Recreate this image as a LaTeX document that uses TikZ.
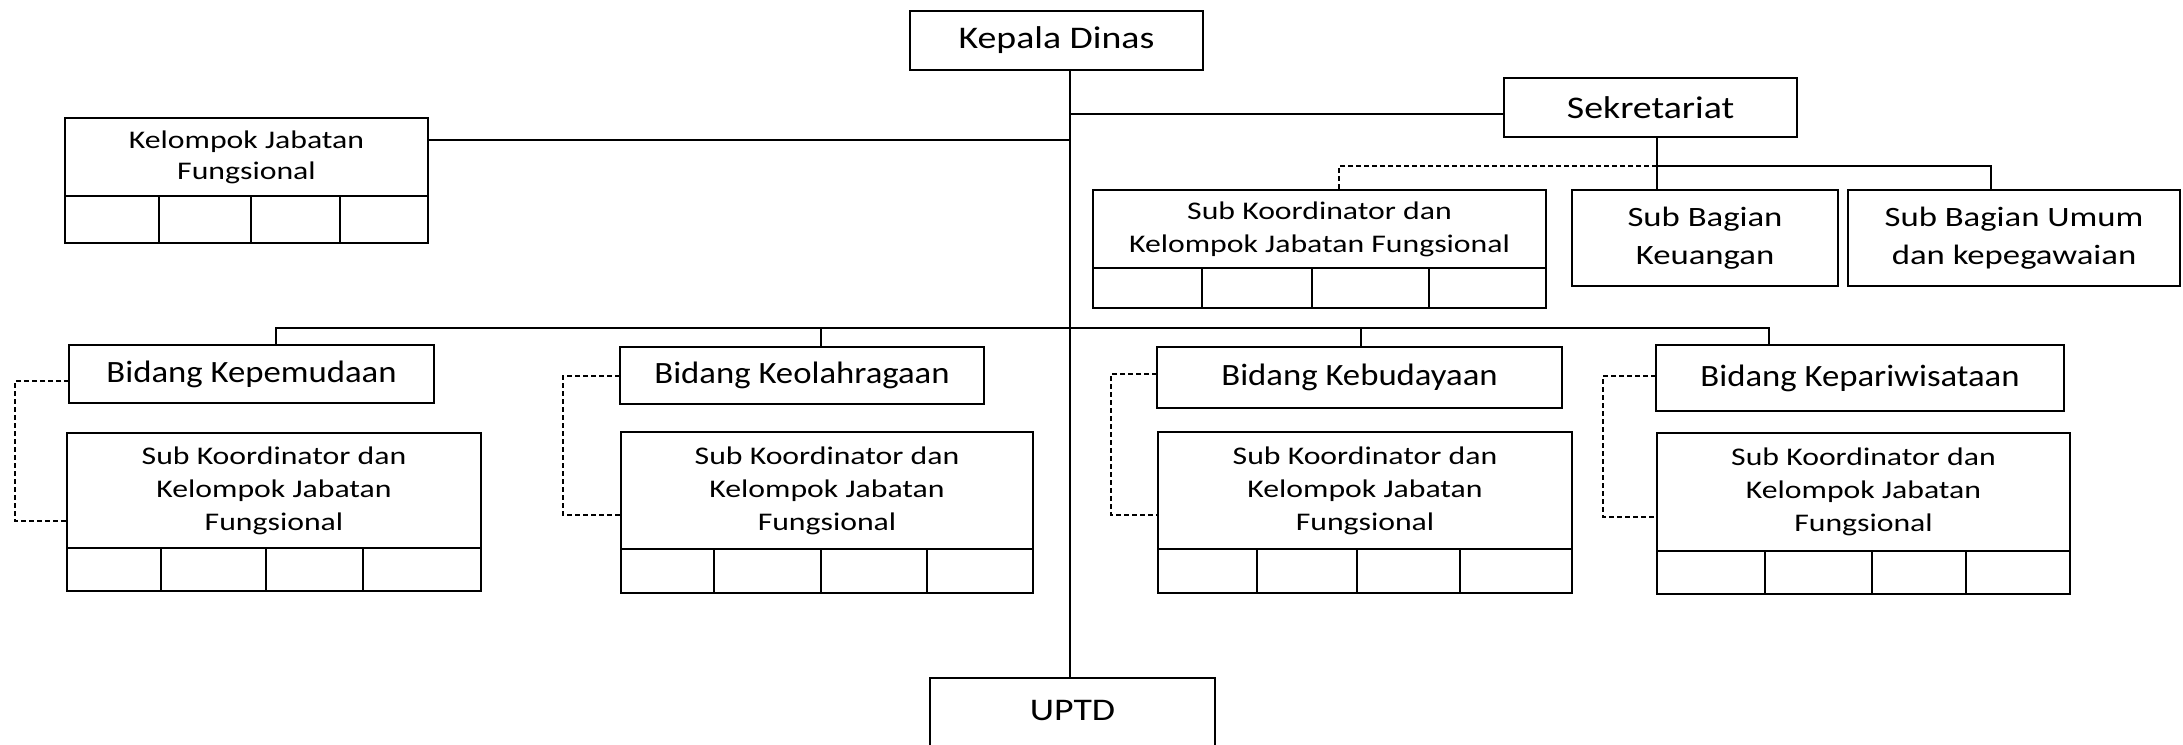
\documentclass[tikz,border=0pt]{standalone}
\usepackage{fontspec}
\setmainfont[FakeStretch=1.25]{Carlito}
\newfontfamily\fontA[FakeStretch=1.2]{Carlito}
\newfontfamily\fontB[FakeStretch=1.12]{Carlito}
\newfontfamily\fontC[FakeStretch=1.24]{Carlito}
\newfontfamily\fontD[FakeStretch=1.25]{Carlito}
\begin{document}
\begin{tikzpicture}[x=1pt,y=-1pt,
  box/.style={draw, line width=2.8pt, inner sep=0pt, outer sep=0pt, align=center},
  conn/.style={line width=1.4pt},
  dconn/.style={line width=1.4pt, dash pattern=on 5pt off 3pt},
  col/.style={line width=1.4pt},
  fa/.style={font=\fontA\fontsize{31.5}{36}\selectfont},
  fb/.style={font=\fontB\fontsize{31}{36}\selectfont},
  fs/.style={font=\fontD\fontsize{25.4}{33}\selectfont},
  fk/.style={font=\fontD\fontsize{25.4}{31}\selectfont},
  fg/.style={font=\fontC\fontsize{28}{38}\selectfont}]
\useasboundingbox (0,0) rectangle (2183,744);
% top
\node[box,fa,minimum width=293pt,minimum height=59pt] (kd) at (1056.5,40.5) {Kepala Dinas};
\node[box,fa,minimum width=285pt,minimum height=72pt] (uptd) at (1072.5,714) {\raisebox{7pt}{UPTD}};
\node[box,fa,minimum width=293pt,minimum height=59pt] (sek) at (1650.5,107.5) {Sekretariat};
% kelompok jabatan fungsional (left)
\node[box,fk,minimum width=363pt,minimum height=78pt] (kjf) at (246.5,157) {Kelompok Jabatan\\Fungsional};
\node[box,minimum width=363pt,minimum height=47pt] (kjfg) at (246.5,219.5) {};
\foreach \x in {159,251,340} \draw[col] (\x,196) -- (\x,243);
% sekretariat children
\node[box,fs,minimum width=453pt,minimum height=78pt] (sk) at (1319.5,229) {Sub Koordinator dan\\Kelompok Jabatan Fungsional};
\node[box,minimum width=453pt,minimum height=40pt] (skg) at (1319.5,288) {};
\foreach \x in {1202,1312,1429} \draw[col] (\x,268) -- (\x,308);
\node[box,fg,minimum width=266pt,minimum height=96pt] (sbk) at (1705,238) {Sub Bagian\\Keuangan};
\node[box,fg,minimum width=332pt,minimum height=96pt] (sbu) at (2014,238) {Sub Bagian Umum\\dan kepegawaian};
% bidang
\node[box,fb,minimum width=365pt,minimum height=58pt] (b1) at (251.5,374) {Bidang Kepemudaan};
\node[box,fb,minimum width=364pt,minimum height=57pt] (b2) at (802,375.5) {Bidang Keolahragaan};
\node[box,fb,minimum width=405pt,minimum height=61pt] (b3) at (1359.5,377.5) {Bidang Kebudayaan};
\node[box,fb,minimum width=408pt,minimum height=66pt] (b4) at (1860,378) {Bidang Kepariwisataan};
% sub koordinator boxes
\node[box,fs,minimum width=414pt,minimum height=115pt] (s1) at (274,490.5) {Sub Koordinator dan\\Kelompok Jabatan\\Fungsional};
\node[box,minimum width=414pt,minimum height=43pt] (s1g) at (274,569.5) {};
\foreach \x in {161,266,363} \draw[col] (\x,548) -- (\x,591);
\node[box,fs,minimum width=412pt,minimum height=117pt] (s2) at (827,490.5) {Sub Koordinator dan\\Kelompok Jabatan\\Fungsional};
\node[box,minimum width=412pt,minimum height=44pt] (s2g) at (827,571) {};
\foreach \x in {714,821,927} \draw[col] (\x,549) -- (\x,593);
\node[box,fs,minimum width=414pt,minimum height=117pt] (s3) at (1365,490.5) {Sub Koordinator dan\\Kelompok Jabatan\\Fungsional};
\node[box,minimum width=414pt,minimum height=44pt] (s3g) at (1365,571) {};
\foreach \x in {1257,1357,1460} \draw[col] (\x,549) -- (\x,593);
\node[box,fs,minimum width=413pt,minimum height=118pt] (s4) at (1863.5,492) {Sub Koordinator dan\\Kelompok Jabatan\\Fungsional};
\node[box,minimum width=413pt,minimum height=43pt] (s4g) at (1863.5,572.5) {};
\foreach \x in {1765,1872,1966} \draw[col] (\x,551) -- (\x,594);
% trunk and connectors
\coordinate (t) at (1070,0);
\draw[conn] (kd.south -| t) -- (uptd.north -| t);
\draw[conn] ([yshift=-6.5pt]sek.west) -- ([yshift=-6.5pt]sek.west -| t);
\draw[conn] ([yshift=17pt]kjf.east) -- ([yshift=17pt]kjf.east -| t);
\coordinate (sj) at (1657,166);
\coordinate (su) at (1991,166);
\coordinate (sd) at (1339,166);
\draw[conn] (sek.south -| sj) -- (sbk.north -| sj);
\draw[conn] (sj) -- (su) -- (sbu.north -| su);
\draw[dconn] (sj) -- (sd) -- (sk.north -| sd);
\coordinate (bl) at (276,328);
\coordinate (bj2) at (821,328);
\coordinate (bj3) at (1361,328);
\coordinate (br) at (1769,328);
\draw[conn] (b1.north -| bl) -- (bl) -- (br) -- (b4.north -| br);
\draw[conn] (bj2) -- (b2.north -| bj2);
\draw[conn] (bj3) -- (b3.north -| bj3);
% dashed links
\coordinate (d1a) at (15,381); \coordinate (d1b) at (15,521);
\draw[dconn] (b1.west |- d1a) -- (d1a) -- (d1b) -- (s1.west |- d1b);
\coordinate (d2a) at (563,376); \coordinate (d2b) at (563,515);
\draw[dconn] (b2.west |- d2a) -- (d2a) -- (d2b) -- (s2.west |- d2b);
\coordinate (d3a) at (1111,374); \coordinate (d3b) at (1111,515);
\draw[dconn] (b3.west |- d3a) -- (d3a) -- (d3b) -- (s3.west |- d3b);
\coordinate (d4a) at (1603,376); \coordinate (d4b) at (1603,517);
\draw[dconn] (b4.west |- d4a) -- (d4a) -- (d4b) -- (s4.west |- d4b);
\end{tikzpicture}
\end{document}
